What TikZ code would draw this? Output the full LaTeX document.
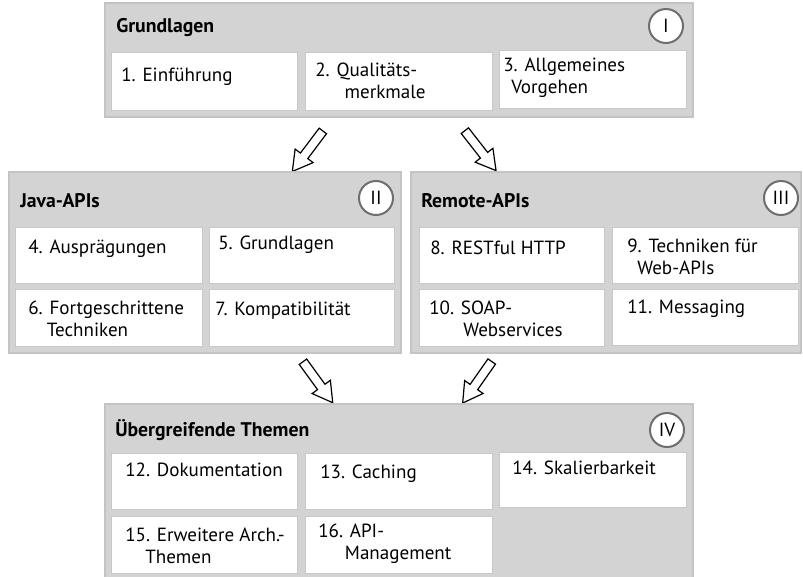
\documentclass[tikz,border=0pt]{standalone}
\usepackage{fontspec}
\setmainfont{PT Sans}
\usetikzlibrary{shapes.arrows}

\definecolor{panelgray}{RGB}{211,211,211}
\definecolor{panelline}{RGB}{196,196,196}
\definecolor{boxline}{RGB}{200,200,200}
\definecolor{ringgray}{RGB}{110,110,110}

\tikzset{
  panel/.style={fill=panelgray, draw=panelline, line width=1.2pt},
  topic/.style={fill=white, draw=boxline, line width=0.6pt},
  paneltitle/.style={anchor=west, font=\bfseries\fontsize{14.8}{16.5}\selectfont},
  topictext/.style={anchor=base west, font=\fontsize{14.3}{16.5}\selectfont},
  ring/.style={circle, draw=ringgray, fill=white, line width=1.5pt, minimum size=25.5pt,
    font=\fontsize{14.3}{16.5}\selectfont},
  hollowarrow/.style={single arrow, draw=black, fill=white, line width=0.9pt,
    inner sep=3pt, minimum height=38pt, single arrow head extend=5pt,
    single arrow tip angle=60}
}
\newcommand{\twolines}[2]{\begin{tabular}[t]{@{}l@{}}#1\\#2\end{tabular}}

\begin{document}
\begin{tikzpicture}[x=0.75pt,y=-0.75pt]
\tikzstyle{every node}+=[inner sep=0pt]
\useasboundingbox (0,0) rectangle (803,576);

% Teil I
\draw [panel] (105,3) rectangle (693,117);
\node [paneltitle] (grundlagen) at (116,28) {Grundlagen};
\node [ring] (r1) at (666,26) {I};
\draw [topic] (111,52) rectangle (297,110);
\node [topictext] (k1) at (121,81) {1. Einführung};
\draw [topic] (305,52) rectangle (492,110);
\node [topictext] (k2) at (315,76) {\twolines{2. Qualitäts-}{\hspace*{22pt}merkmale}};
\draw [topic] (499,50) rectangle (686,108);
\node [topictext] (k3) at (503,71) {\twolines{3. Allgemeines}{\hspace*{6pt}Vorgehen}};

\node [hollowarrow, rotate=233] (a1) at (310,148) {};
\node [hollowarrow, rotate=-52] (a2) at (478,147.5) {};

% Teil II
\draw [panel] (9,172) rectangle (401,353);
\node [paneltitle] (javaapis) at (20,201) {Java-APIs};
\node [ring] (r2) at (376,198) {II};
\draw [topic] (15,227) rectangle (202,283);
\node [topictext] (k4) at (28,253) {4. Ausprägungen};
\draw [topic] (209,227) rectangle (394,283);
\node [topictext] (k5) at (218,249) {5. Grundlagen};
\draw [topic] (15,289) rectangle (202,346);
\node [topictext] (k6) at (28,314) {\twolines{6. Fortgeschrittene}{\hspace*{14pt}Techniken}};
\draw [topic] (209,289) rectangle (394,346);
\node [topictext] (k7) at (215,315) {7. Kompatibilität};

% Teil III
\draw [panel] (411,172) rectangle (801,353);
\node [paneltitle] (remoteapis) at (421,201) {Remote-APIs};
\node [ring] (r3) at (781,198) {III};
\draw [topic] (419,227) rectangle (604,283);
\node [topictext] (k8) at (430,254) {8. RESTful HTTP};
\draw [topic] (612,227) rectangle (798,283);
\node [topictext] (k9) at (627,252) {\twolines{9. Techniken für}{\hspace*{7.5pt}Web-APIs}};
\draw [topic] (419,289) rectangle (604,346);
\node [topictext] (k10) at (429,314) {\twolines{10. SOAP-}{\hspace*{25.5pt}Webservices}};
\draw [topic] (612,289) rectangle (798,345);
\node [topictext] (k11) at (627,313) {11. Messaging};

\node [hollowarrow, rotate=-54] (a3) at (315.5,379) {};
\node [hollowarrow, rotate=235] (a4) at (479.5,379) {};

% Teil IV
\draw [panel] (105,404) rectangle (693,578);
\node [paneltitle] (themen) at (115,430) {Übergreifende Themen};
\node [ring] (r4) at (667,430) {IV};
\draw [topic] (111,453) rectangle (297,509);
\node [topictext] (k12) at (125,476) {12. Dokumentation};
\draw [topic] (305,453) rectangle (492,509);
\node [topictext] (k13) at (320,478) {13. Caching};
\draw [topic] (499,452) rectangle (686,507);
\node [topictext] (k14) at (512,474) {14. Skalierbarkeit};
\draw [topic] (111,516) rectangle (297,573);
\node [topictext] (k15) at (125,541) {\twolines{15. Erweitere Arch.-}{\hspace*{15pt}Themen}};
\draw [topic] (305,516) rectangle (492,573);
\node [topictext] (k16) at (318,537) {\twolines{16. API-}{\hspace*{20pt}Management}};
\end{tikzpicture}
\end{document}
